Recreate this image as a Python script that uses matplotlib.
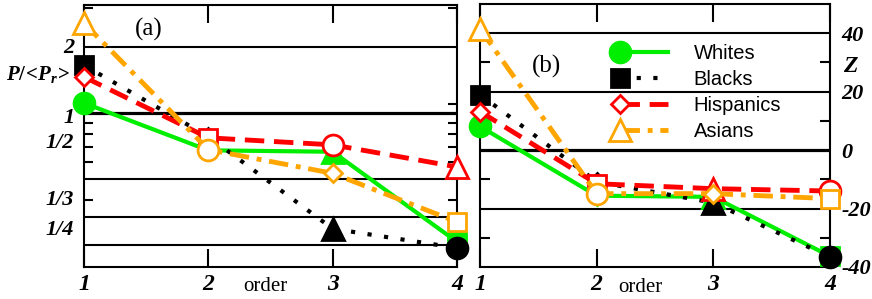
import matplotlib
matplotlib.use('Agg')
import matplotlib.pyplot as plt
from matplotlib.legend_handler import HandlerLine2D
from matplotlib.lines import Line2D
from matplotlib.ticker import NullFormatter

plt.rcParams['mathtext.fontset'] = 'custom'
plt.rcParams['mathtext.it'] = 'Liberation Serif:italic:bold'
plt.rcParams['mathtext.rm'] = 'Liberation Serif:bold'

# datos
order = [1, 2, 3, 4]
groups = ['Whites', 'Blacks', 'Hispanics', 'Asians']

p_whites = [1.11, 0.675, 0.665, 0.258]
p_blacks = [1.65, 0.78, 0.296, 0.242]
p_hisp = [1.46, 0.77, 0.715, 0.567]
p_asian = [2.57, 0.68, 0.53, 0.318]

z_whites = [8.1, -15.6, -16.0, -36.3]
z_blacks = [19.0, -10.8, -18.0, -36.6]
z_hisp = [13.2, -11.5, -13.2, -14.0]
z_asian = [41.5, -14.9, -14.9, -16.6]

# lineas horizontales
grid_a = [2, 1, 1/2, 1/3, 1/4]
grid_b = [40, 20, 0, -20]
ylab_a = ['2', '1', '1/2', '1/3', '1/4']
ylab_pos_a = [2.03, 0.97, 0.75, 0.41, 0.30]
minor_a = [3, 1.1, 0.9, 0.8, 0.7, 0.6, 0.4, 0.3]
ylab_b = [40, 20, 0, -20, -40]
minor_b = [30, 10, -10, -30]

# estilos
colores = ['#00ee00', 'black', 'red', 'orange']
lineas = ['-', (0, (1, 3)), (0, (4, 2)), (0, (4, 1.6, 1, 1.6))]
anchos = [3, 3, 3.5, 3.5]
llenos = [True, True, False, False]
marcas_a = [['o', 'D', '^', 's'], ['s', 'D', '^', 'o'], ['D', 's', 'o', '^'], ['^', 'o', 'D', 's']]
marcas_b = [['o', 'D', '^', 's'], ['s', 'D', '^', 'o'], ['D', 's', '^', 'o'], ['^', 'o', 'D', 's']]
tam = {'o': 15, 's': 13, 'D': 9.5, '^': 16}

fnum = dict(family='Liberation Serif', weight='bold', style='italic')


class MarcaIzq(HandlerLine2D):
    # marcador a la izquierda de la linea, como en gnuplot
    def create_artists(self, *args, **kwargs):
        arts = super().create_artists(*args, **kwargs)
        arts[0].set_markevery([0])
        return arts


def dibujar(ax, series, marcas):
    for i, ys in enumerate(series):
        ax.plot(order, ys, color=colores[i], ls=lineas[i], lw=anchos[i], zorder=3 + i)
        for x, y, m in zip(order, ys, marcas[i]):
            ax.plot([x], [y], marker=m, ms=tam[m], color=colores[i],
                    mfc=colores[i] if llenos[i] else 'white', mec=colores[i], mew=2,
                    ls='none', zorder=3 + i, clip_on=False)
    ax.set_xlim(1, 4)
    ax.set_xticks(order)
    ax.set_xticklabels([str(o) for o in order], fontdict=dict(fnum, size=17))
    ax.tick_params(axis='x', direction='in', length=13, width=1.5, top=True, pad=5)
    for s in ax.spines.values():
        s.set_linewidth(1.5)


fig = plt.figure(figsize=(8.72, 2.99), dpi=100)
ax1 = fig.add_axes([84/872, 32/299, 373/872, 262/299])
ax2 = fig.add_axes([480/872, 32/299, 350/872, 263/299])

# (a)
for g in grid_a:
    ax1.axhline(g, color='black', lw=2.3 if g == 1 else 1.5, zorder=1)
dibujar(ax1, [p_whites, p_blacks, p_hisp, p_asian], marcas_a)
ax1.set_yscale('log')
ax1.set_ylim(0.198, 3.11)
ax1.set_yticks(ylab_pos_a)
ax1.set_yticklabels(ylab_a, fontdict=dict(fnum, size=16))
ax1.set_yticks(minor_a, minor=True)
ax1.yaxis.set_minor_formatter(NullFormatter())
ax1.tick_params(axis='y', which='major', length=0, pad=7)
ax1.tick_params(axis='y', which='minor', direction='in', length=6.5, width=1.5, right=True)
ax1.text(0.174, 0.905, '(a)', transform=ax1.transAxes, ha='center', va='center',
         family='Liberation Serif', size=18)
ax1.text(0.485, -0.075, 'order', transform=ax1.transAxes, ha='center', va='center',
         family='Liberation Serif', size=15)
ax1.text(-0.038, 0.733, r'$P/\!<\!P_r\!>$', transform=ax1.transAxes, ha='right', va='center',
         size=15)

# (b)
for g in grid_b:
    ax2.axhline(g, color='black', lw=2.3 if g == 0 else 1.5, zorder=1)
dibujar(ax2, [z_whites, z_blacks, z_hisp, z_asian], marcas_b)
ax2.set_ylim(-40, 50)
ax2.yaxis.tick_right()
ax2.set_yticks(ylab_b)
ax2.set_yticklabels([str(v) for v in ylab_b], fontdict=dict(fnum, size=16))
ax2.set_yticks(minor_b, minor=True)
ax2.tick_params(axis='y', which='major', length=0, pad=8)
ax2.tick_params(axis='y', which='minor', direction='in', length=7, width=1.5, left=True, right=True)
ax2.text(0.19, 0.764, '(b)', transform=ax2.transAxes, ha='center', va='center',
         family='Liberation Serif', size=18)
ax2.text(0.457, -0.078, 'order', transform=ax2.transAxes, ha='center', va='center',
         family='Liberation Serif', size=15)
ax2.text(1.06, 0.768, r'$Z$', transform=ax2.transAxes, ha='center', va='center', size=17)

handles = []
for i in range(4):
    m = marcas_b[i][0]
    handles.append(Line2D([], [], color=colores[i], ls=lineas[i], lw=anchos[i], marker=m,
                          ms=tam[m], mfc=colores[i] if llenos[i] else 'white',
                          mec=colores[i], mew=2))
ax2.legend(handles, groups, loc='upper left', bbox_to_anchor=(0.4, 0.847), frameon=False,
           numpoints=1, handlelength=2.4, handletextpad=1.25, labelspacing=0.35,
           borderpad=0, borderaxespad=0, prop=dict(family='Liberation Sans', size=14.5),
           handler_map={Line2D: MarcaIzq()})

fig.savefig('out.png', dpi=100)
